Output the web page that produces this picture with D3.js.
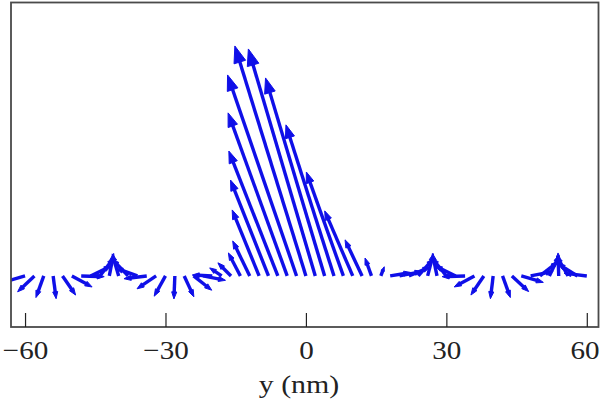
<!DOCTYPE html>
<html><head><meta charset="utf-8">
<script src="https://cdn.jsdelivr.net/npm/d3@7"></script>
<style>html,body{margin:0;padding:0;background:#fff;}svg{display:block;}</style>
</head><body>
<svg id="chart" width="600" height="405"></svg>
<script>
// Sample positions along y (nm)
const positions = [-60,-58,-56,-54,-52,-50,-48,-46,-44,-42,-40,-38,-36,-34,-32,-30,-28,-26,-24,-22,-20,-18,-16,-14,-12,-10,-8,-6,-4,-2,0,2,4,6,8,10,12,14,16,18,20,22,24,26,28,30,32,34,36,38,40,42,44,46,48,50,52,54,56,58,60];
// Horizontal (in-plane) vector component
const uVals = [-0.96,-0.73,-0.34,0.13,0.57,0.88,1.0,0.9,0.61,0.19,-0.28,-0.68,-0.94,-0.99,-0.83,-0.49,-0.04,0.42,0.79,0.98,-0.87,-0.52,-0.57,-0.52,-0.74,-1.17,-1.65,-2.13,-2.57,-3.0,-3.09,-2.91,-2.57,-2.09,-1.61,-1.22,-0.74,-0.28,0.15,0.9,0.98,0.92,0.66,0.25,-0.2,-0.62,-0.9,-1.0,-0.88,-0.56,-0.12,0.34,0.73,0.96,0.98,0.79,0.43,-0.03,-0.5,-0.85,-0.99];
// Vertical (out-of-plane) vector component
const vVals = [-0.28,-0.69,-0.94,-0.99,-0.83,-0.48,-0.03,0.43,0.79,0.98,0.96,0.73,0.34,-0.12,-0.56,-0.88,-1.0,-0.91,-0.62,-0.19,0.04,0.35,0.57,1.0,1.52,2.87,4.17,5.43,7.09,8.74,10.0,9.87,8.61,6.57,4.52,2.83,1.57,0.78,0.4,0.15,0.2,0.39,0.75,0.97,0.98,0.78,0.43,-0.03,-0.48,-0.83,-0.99,-0.94,-0.68,-0.28,0.2,0.62,0.9,1.0,0.87,0.53,0.12];
const xTicks = [-60,-30,0,30,60];
const xLabel = "y (nm)";

const svg = d3.select("#chart");
const L = 11, R = 598.5, T = 2.5, B = 327;
const x = d3.scaleLinear().domain([-63, 62.5]).range([L, R]);
const y = d3.scaleLinear().domain([-2.22, 11.89]).range([B, T]);
const unit = y(0) - y(1);
const blue = "#0f0fe8";

svg.append("defs").append("clipPath").attr("id","plotclip")
  .append("rect").attr("x",L).attr("y",T).attr("width",R-L).attr("height",B-T);

const g = svg.append("g").attr("clip-path","url(#plotclip)");
const data = positions.map((p,i)=>({p, u:uVals[i], v:vVals[i]}));

data.forEach(d=>{
  const x0 = x(d.p), y0 = y(0);
  const x1 = x0 + d.u*unit, y1 = y(d.v);
  const dx = x1-x0, dy = y1-y0;
  const len = Math.hypot(dx,dy);
  if (len < 0.5) return;
  const ux = dx/len, uy = dy/len;
  const hl = Math.min(len*0.45, 6 + 0.045*len);
  const hw = hl*0.36;
  const bx = x1 - ux*hl, by = y1 - uy*hl;
  g.append("line").attr("x1",x0).attr("y1",y0).attr("x2",bx+ux*1).attr("y2",by+uy*1)
    .attr("stroke",blue).attr("stroke-width",3.4).attr("stroke-linecap","butt");
  const px = -uy, py = ux;
  g.append("path").attr("d",`M${x1},${y1}L${bx+px*hw},${by+py*hw}L${bx-px*hw},${by-py*hw}Z`)
    .attr("fill",blue).attr("stroke",blue).attr("stroke-width",1).attr("stroke-linejoin","miter");
});

// frame
svg.append("rect").attr("x",L).attr("y",T).attr("width",R-L).attr("height",B-T)
  .attr("fill","none").attr("stroke","#4a4a4a").attr("stroke-width",1.8);

// bottom axis with inward ticks
const axis = d3.axisBottom(x).tickValues(xTicks).tickSize(-14).tickPadding(14)
  .tickFormat(d=> d<0 ? "\u2212"+Math.abs(d) : String(d));
const ax = svg.append("g").attr("transform",`translate(0,${B})`).call(axis);
ax.select(".domain").remove();
ax.selectAll(".tick line").attr("stroke","#222").attr("stroke-width",1.2);
ax.selectAll(".tick text").attr("fill","#222").attr("font-family","'Liberation Serif', 'DejaVu Serif', serif")
  .attr("font-size",26).attr("dy","0.71em").attr("transform","scale(1.12,1)");
// keep the last label inside the picture
ax.selectAll(".tick").filter(d=>d===60).select("text").attr("x",-2);

svg.append("text").attr("transform","translate(299,393) scale(1.15,1)").attr("text-anchor","middle")
  .attr("font-family","'Liberation Serif', 'DejaVu Serif', serif").attr("font-size",26).attr("fill","#222")
  .text(xLabel);
</script>
</body></html>
